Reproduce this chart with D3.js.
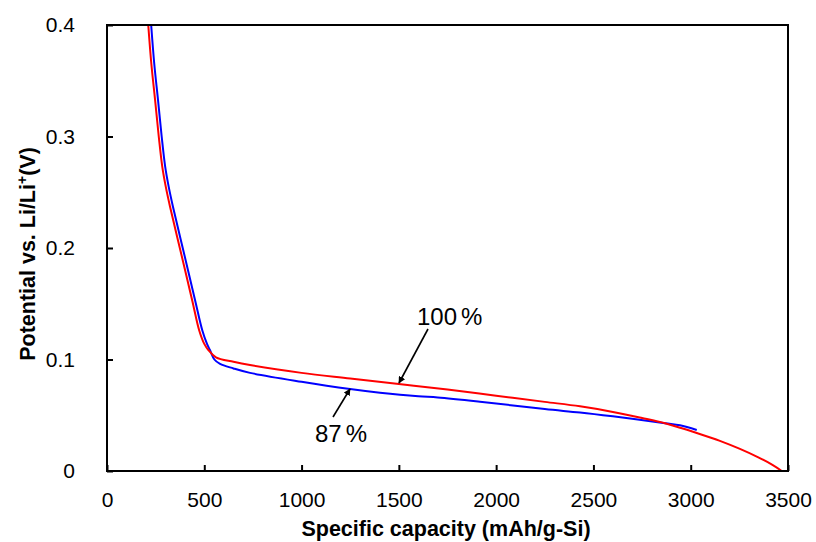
<!DOCTYPE html>
<html><head><meta charset="utf-8">
<script src="https://cdn.jsdelivr.net/npm/d3@7"></script>
<style>body{margin:0;background:#fff}svg{display:block}text{font-family:"Liberation Sans",Arial,sans-serif}</style>
</head><body>
<svg id="c" width="816" height="542"></svg>
<script>
const xTicks = [0,500,1000,1500,2000,2500,3000,3500];
const xTickLabels = ["0","500","1000","1500","2000","2500","3000","3500"];
const yTicks = [0,0.1,0.2,0.3,0.4];
const yTickLabels = ["0","0.1","0.2","0.3","0.4"];
// series: [capacity mAh/g, potential V]
const red100 = [[212,0.4],[228,0.365],[247,0.333],[266,0.300],[284,0.273],[302,0.255],[324,0.237],[377,0.198],[438,0.153],[474,0.126],[500,0.114],[521,0.1085],[560,0.102],[650,0.098],[735,0.095],[1000,0.088],[1250,0.083],[1500,0.078],[1750,0.073],[2000,0.0675],[2250,0.062],[2431,0.058],[2600,0.053],[2750,0.0475],[2868,0.0428],[2950,0.0385],[3050,0.033],[3150,0.027],[3250,0.020],[3350,0.012],[3420,0.0055],[3468,0]];
const blue87 = [[227,0.4],[243,0.365],[262,0.333],[281,0.300],[299,0.273],[317,0.255],[339,0.237],[392,0.198],[453,0.153],[490,0.126],[514,0.114],[529,0.1085],[552,0.1],[581,0.096],[650,0.092],[735,0.088],[1000,0.080],[1249,0.0735],[1403,0.0702],[1600,0.067],[1700,0.066],[1917,0.0622],[2250,0.0555],[2431,0.0525],[2600,0.049],[2868,0.0428],[2945,0.041],[3031,0.0368]];
const annotations = [
  {label:"100", pct:"%", tx:417, ty:325, from:[428,329], to:[399,383]},
  {label:"87", pct:"%", tx:315, ty:442, from:[333,417], to:[350,389]}
];

const svg = d3.select("#c");
const m = {l:107, t:25, w:681, h:446};
const x = d3.scaleLinear().domain([0,3500]).range([m.l, m.l+m.w]);
const y = d3.scaleLinear().domain([0,0.4]).range([m.t+m.h, m.t]);

svg.append("defs").append("marker").attr("id","ah").attr("viewBox","0 0 10 10")
  .attr("refX",9).attr("refY",5).attr("markerWidth",7).attr("markerHeight",7)
  .attr("markerUnits","userSpaceOnUse").attr("orient","auto")
  .append("path").attr("d","M0,0 L10,5 L0,10 z").attr("fill","#000");

const gx = svg.append("g").attr("transform",`translate(0,${m.t+m.h})`)
  .call(d3.axisBottom(x).tickValues(xTicks).tickFormat((d,i)=>xTickLabels[i]).tickSizeInner(-6).tickSizeOuter(0).tickPadding(21));
gx.select(".domain").remove();
gx.selectAll("line").attr("stroke","#000").attr("stroke-width",2);
gx.selectAll("text").attr("font-size",21).attr("fill","#000").attr("font-family","Liberation Sans, Arial, sans-serif");

const gy = svg.append("g").attr("transform",`translate(${m.l},0)`)
  .call(d3.axisLeft(y).tickValues(yTicks).tickFormat((d,i)=>yTickLabels[i]).tickSizeInner(-6).tickSizeOuter(0).tickPadding(32));
gy.select(".domain").remove();
gy.selectAll("line").attr("stroke","#000").attr("stroke-width",2);
gy.selectAll("text").attr("font-size",21).attr("fill","#000").attr("font-family","Liberation Sans, Arial, sans-serif");

const line = d3.line().x(d=>x(d[0])).y(d=>y(d[1])).curve(d3.curveCatmullRom.alpha(0.5));
svg.append("path").datum(blue87).attr("d",line).attr("fill","none").attr("stroke","#0000ff").attr("stroke-width",2);
svg.append("path").datum(red100).attr("d",line).attr("fill","none").attr("stroke","#ff0000").attr("stroke-width",2);

svg.append("rect").attr("x",m.l).attr("y",m.t).attr("width",m.w).attr("height",m.h)
  .attr("fill","none").attr("stroke","#000").attr("stroke-width",2);

annotations.forEach(a=>{
  svg.append("line").attr("x1",a.from[0]).attr("y1",a.from[1]).attr("x2",a.to[0]).attr("y2",a.to[1])
    .attr("stroke","#000").attr("stroke-width",1.6).attr("marker-end","url(#ah)");
  const t = svg.append("text").attr("x",a.tx).attr("y",a.ty).attr("font-size",24).attr("fill","#000");
  t.append("tspan").text(a.label);
  t.append("tspan").attr("dx",4).text(a.pct);
});

svg.append("text").attr("x",446).attr("y",536).attr("text-anchor","middle")
  .attr("font-size",21.5).attr("font-weight","bold").text("Specific capacity (mAh/g-Si)");
const yl = svg.append("text").attr("transform","translate(35,254) rotate(-90)").attr("text-anchor","middle")
  .attr("font-size",21.5).attr("font-weight","bold");
yl.append("tspan").text("Potential vs. Li/Li");
yl.append("tspan").attr("font-size",14).attr("dy",-8).text("+");
yl.append("tspan").attr("dy",8).text("(V)");
</script>
</body></html>
